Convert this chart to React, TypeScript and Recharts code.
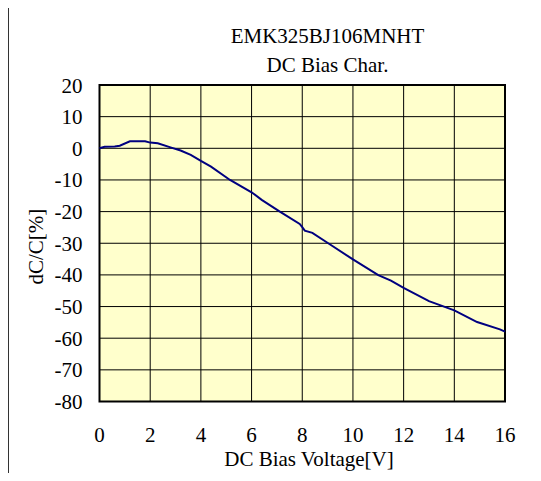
import React from "react";
import {
    LineChart,
    Line,
    XAxis,
    YAxis,
    CartesianGrid,
    ReferenceArea,
} from "recharts";

const voltage = [0, 0.2, 0.6, 0.8, 1.2, 1.8, 2.0, 2.3, 2.8, 3.2, 3.6, 4.0, 4.4, 5.15, 6.0, 6.4, 7.1, 7.9, 8.0, 8.1, 8.4, 9.1, 10.0, 11.0, 11.5, 12.0, 13.0, 14.0, 14.9, 15.8, 16.0];
const dcRatio = [0, 0.5, 0.6, 0.8, 2.2, 2.2, 1.8, 1.6, 0.3, -0.7, -2.1, -4.0, -5.8, -10.0, -13.9, -16.3, -19.9, -23.9, -24.9, -26.0, -26.7, -30.4, -35.1, -40.1, -41.8, -44.1, -48.3, -51.2, -54.9, -57.2, -57.9];

const xTicks = [0, 2, 4, 6, 8, 10, 12, 14, 16];
const yTicks = [-80, -70, -60, -50, -40, -30, -20, -10, 0, 10, 20];

const titleLines = ["EMK325BJ106MNHT", "DC Bias Char."];
const xTitle = "DC Bias Voltage[V]";
const yTitle = "dC/C[%]";

const FONT = "'Liberation Serif', 'Times New Roman', serif";

function XTick({ x, y, payload }: any) {
    return (
        <text x={x} y={y + 40} textAnchor="middle" fontFamily={FONT} fontSize={21} fill="#000">
            {payload.value}
        </text>
    );
}

function YTick({ x, y, payload }: any) {
    return (
        <text x={x - 17} y={y + 7.5} textAnchor="end" fontFamily={FONT} fontSize={21} fill="#000">
            {payload.value}
        </text>
    );
}

export default function App() {
    const data = voltage.map((v, i) => ({ v, dc: dcRatio[i] }));

    return (
        <div
            style={{
                position: "relative",
                width: 541,
                height: 481,
                margin: -8,
                overflow: "hidden",
                background: "#fff",
                fontFamily: FONT,
            }}
        >
            {/* outer frame (only top/left visible in the crop) */}
            <div
                style={{
                    position: "absolute",
                    left: 7,
                    top: 6,
                    width: 700,
                    height: 700,
                    borderTop: "2px solid #333",
                    borderLeft: "2px solid #333",
                }}
            />
            <div style={{ position: "absolute", left: 0, top: 0 }}>
                <LineChart
                    width={541}
                    height={481}
                    data={data}
                    margin={{ top: 85, right: 36, left: 39.5, bottom: 39.5 }}
                >
                    <CartesianGrid
                        stroke="#000"
                        strokeWidth={1}
                        fill="#FFFFCC"
                        fillOpacity={1}
                    />
                    <XAxis
                        dataKey="v"
                        type="number"
                        domain={[0, 16]}
                        ticks={xTicks}
                        height={40}
                        axisLine={false}
                        tickLine={false}
                        tickSize={0}
                        tickMargin={0}
                        tick={<XTick />}
                    />
                    <YAxis
                        type="number"
                        domain={[-80, 20]}
                        ticks={yTicks}
                        width={60}
                        axisLine={false}
                        tickLine={false}
                        tickSize={0}
                        tickMargin={0}
                        tick={<YTick />}
                    />
                    <ReferenceArea
                        x1={0}
                        x2={16}
                        y1={-80}
                        y2={20}
                        fill="none"
                        stroke="#000"
                        strokeWidth={2}
                        fillOpacity={0}
                    />
                    <Line
                        type="linear"
                        dataKey="dc"
                        stroke="#000080"
                        strokeWidth={2}
                        dot={false}
                        isAnimationActive={false}
                    />
                </LineChart>
            </div>
            <svg
                width={541}
                height={481}
                style={{ position: "absolute", left: 0, top: 0, pointerEvents: "none" }}
                fontFamily={FONT}
                fontSize={21}
                fill="#000"
            >
                <text x={327.5} y={43.3} textAnchor="middle">{titleLines[0]}</text>
                <text x={327.5} y={71.7} textAnchor="middle">{titleLines[1]}</text>
                <text x={309} y={466} textAnchor="middle">{xTitle}</text>
                <text
                    x={0}
                    y={0}
                    textAnchor="middle"
                    transform="translate(43 246.7) rotate(-90)"
                >
                    {yTitle}
                </text>
            </svg>
        </div>
    );
}
